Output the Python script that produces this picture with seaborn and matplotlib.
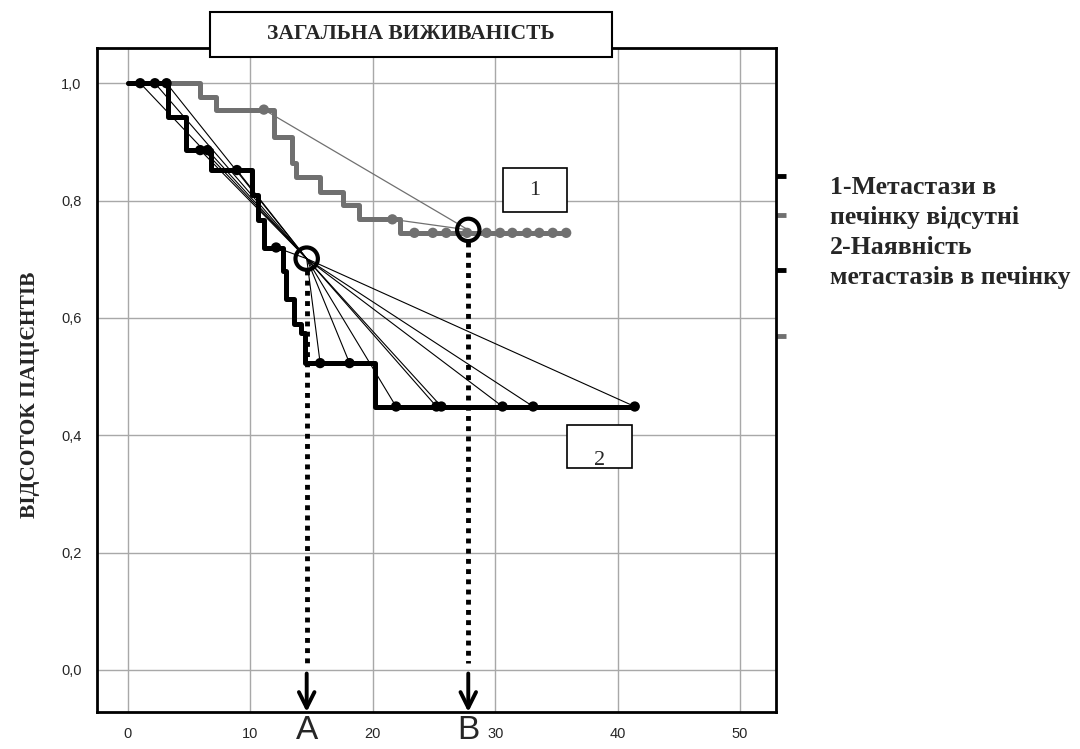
import numpy as np
import pandas as pd
import matplotlib
matplotlib.use('Agg')
import matplotlib.pyplot as plt
import matplotlib.transforms as mtransforms
from matplotlib.patches import Rectangle
from matplotlib.ticker import FuncFormatter
import seaborn as sns

# група 1 - метастази в печінку відсутні (сіра крива)
g1_time = [0.0, 5.9, 7.2, 11.9, 13.4, 13.7, 15.7, 17.6, 18.9, 22.2, 35.8]
g1_surv = [1.0, 0.977, 0.955, 0.909, 0.864, 0.841, 0.815, 0.792, 0.768, 0.745, 0.745]
g1_cens_t = [11.1, 21.6, 23.4, 24.9, 26.0, 27.7, 29.3, 30.4, 31.4, 32.6, 33.6, 34.7, 35.8]
g1_cens_s = [0.955, 0.768, 0.745, 0.745, 0.745, 0.745, 0.745, 0.745, 0.745, 0.745, 0.745, 0.745, 0.745]

# група 2 - наявність метастазів в печінку (чорна крива)
g2_time = [0.0, 3.3, 4.7, 6.8, 10.1, 10.6, 11.1, 12.7, 12.9, 13.6, 14.1, 14.5, 20.2, 41.4]
g2_surv = [1.0, 0.943, 0.886, 0.852, 0.81, 0.767, 0.72, 0.68, 0.632, 0.59, 0.574, 0.523, 0.449, 0.449]
g2_cens_t = [1.0, 2.2, 3.15, 5.9, 6.5, 8.9, 12.1, 15.7, 18.1, 21.9, 25.2, 25.6, 30.6, 33.1, 41.4]
g2_cens_s = [1.0, 1.0, 1.0, 0.886, 0.886, 0.852, 0.72, 0.523, 0.523, 0.449, 0.449, 0.449, 0.449, 0.449, 0.449]

# медіани (точки A і B)
median_t = [14.6, 27.8]
median_s = [0.701, 0.750]
median_lbl = ['A', 'B']

x_ticks = [0, 10, 20, 30, 40, 50]
y_ticks = [0.0, 0.2, 0.4, 0.6, 0.8, 1.0]

title = 'ЗАГАЛЬНА ВИЖИВАНІСТЬ'
y_label = 'ВІДСОТОК ПАЦІЄНТІВ'
legend_lines = ['1-Метастази в', 'печінку відсутні', '2-Наявність', 'метастазів в печінку']

GRAY = '#707070'
SERIF = ['Liberation Serif', 'DejaVu Serif']
SANS = ['Liberation Sans Narrow', 'Liberation Sans', 'DejaVu Sans']

sns.set_style('white')
plt.rcParams['font.family'] = SANS

curves = pd.concat([
    pd.DataFrame({'t': g1_time, 's': g1_surv, 'grp': '1'}),
    pd.DataFrame({'t': g2_time, 's': g2_surv, 'grp': '2'}),
])
cens = pd.concat([
    pd.DataFrame({'t': g1_cens_t, 's': g1_cens_s, 'grp': '1'}),
    pd.DataFrame({'t': g2_cens_t, 's': g2_cens_s, 'grp': '2'}),
])
pal = {'1': GRAY, '2': 'black'}

fig = plt.figure(figsize=(10.8, 7.49), dpi=100)
ax = fig.add_axes([97 / 1080, 1 - 712 / 749, 679 / 1080, 664 / 749])
ax.set_xlim(-2.53, 52.94)
ax.set_ylim(-0.0716, 1.06)
ax.set_xticks(x_ticks)
ax.set_yticks(y_ticks)
ax.grid(True, color='#a8a8a8', lw=1)
ax.set_axisbelow(True)

# лінії від цензурованих точок до медіан
for t, s in zip(g1_cens_t, g1_cens_s):
    if t < median_t[1] and s > median_s[1] + 0.001:
        ax.plot([t, median_t[1]], [s, median_s[1]], color=GRAY, lw=0.9, zorder=2)
for t, s in zip(g2_cens_t, g2_cens_s):
    ax.plot([t, median_t[0]], [s, median_s[0]], color='black', lw=0.8, zorder=2)

sns.lineplot(data=curves, x='t', y='s', hue='grp', palette=pal, drawstyle='steps-post',
             lw=3.6, legend=False, ax=ax, zorder=3, estimator=None, sort=False)
sns.scatterplot(data=cens, x='t', y='s', hue='grp', palette=pal, s=55, linewidth=0,
                legend=False, ax=ax, zorder=4)

# медіани, пунктир і стрілки
tr = mtransforms.blended_transform_factory(ax.transData, fig.transFigure)
for t, s, lbl in zip(median_t, median_s, median_lbl):
    ax.plot([t, t], [s - 0.02, 0.012], color='black', lw=3.5, ls=(0, (1, 1.1)), zorder=5)
    ax.scatter([t], [s], s=260, facecolors='none', edgecolors='black', linewidths=3, zorder=6)
    ax.annotate('', xy=(t, -0.0716), xytext=(t, -0.006),
                arrowprops=dict(arrowstyle='->', lw=2.8, mutation_scale=28, color='black',
                                shrinkA=0, shrinkB=0),
                annotation_clip=False, zorder=6)
    ax.text(t, 3 / 749, lbl, transform=tr, ha='center', va='bottom', fontsize=24,
            family=['Liberation Sans', 'DejaVu Sans'])

# номери кривих в рамках
for (x0, y0, x1, y1, txt, dy) in [(30.6, 0.780, 35.9, 0.855, '1', 0.0),
                                  (35.9, 0.344, 41.2, 0.417, '2', -0.024)]:
    rect = Rectangle((x0, y0), x1 - x0, y1 - y0, facecolor='white', edgecolor='black',
                     lw=1.2, zorder=7)
    ax.add_patch(rect)
    tx = ax.text((x0 + x1) / 2, (y0 + y1) / 2 + dy, txt, ha='center', va='center',
                 fontsize=16, family=SERIF, zorder=8)
    tx.set_clip_path(rect)

ax.yaxis.set_major_formatter(FuncFormatter(lambda v, p: f'{v:.1f}'.replace('.', ',')))
ax.tick_params(axis='both', direction='out', length=6, width=1.8, labelsize=10.5,
               color='black', pad=5)
for sp in ax.spines.values():
    sp.set_visible(True)
    sp.set_color('black')
    sp.set_linewidth(2)
ax.set_xlabel('')
ax.set_ylabel('')

# залишки легенди на правій осі
for yy, c in [(176, 'black'), (215, GRAY), (270, 'black'), (336, GRAY)]:
    ya = (712 - yy) / 664
    ax.plot([1.0, 1.0 + 10 / 679], [ya, ya], transform=ax.transAxes, color=c, lw=3.5,
            clip_on=False, solid_capstyle='butt')

# заголовок у рамці
fig.patches.append(Rectangle((210 / 1080, 1 - 57 / 749), 402 / 1080, 45 / 749,
                             transform=fig.transFigure, facecolor='white',
                             edgecolor='black', lw=1.5, zorder=10))
fig.text(411 / 1080, 1 - 34 / 749, title, ha='center', va='center', fontsize=15.5,
         fontweight='bold', family=SERIF, zorder=11)

fig.text(30 / 1080, 1 - 395 / 749, y_label, rotation=90, ha='center', va='center',
         fontsize=15.5, fontweight='bold', family=SERIF)

for i, line in enumerate(legend_lines):
    fig.text(830 / 1080, 1 - (194 + 30 * i) / 749, line, ha='left', va='baseline',
             fontsize=18.5, fontweight='bold', family=SERIF)

fig.savefig('out.png', dpi=100)
